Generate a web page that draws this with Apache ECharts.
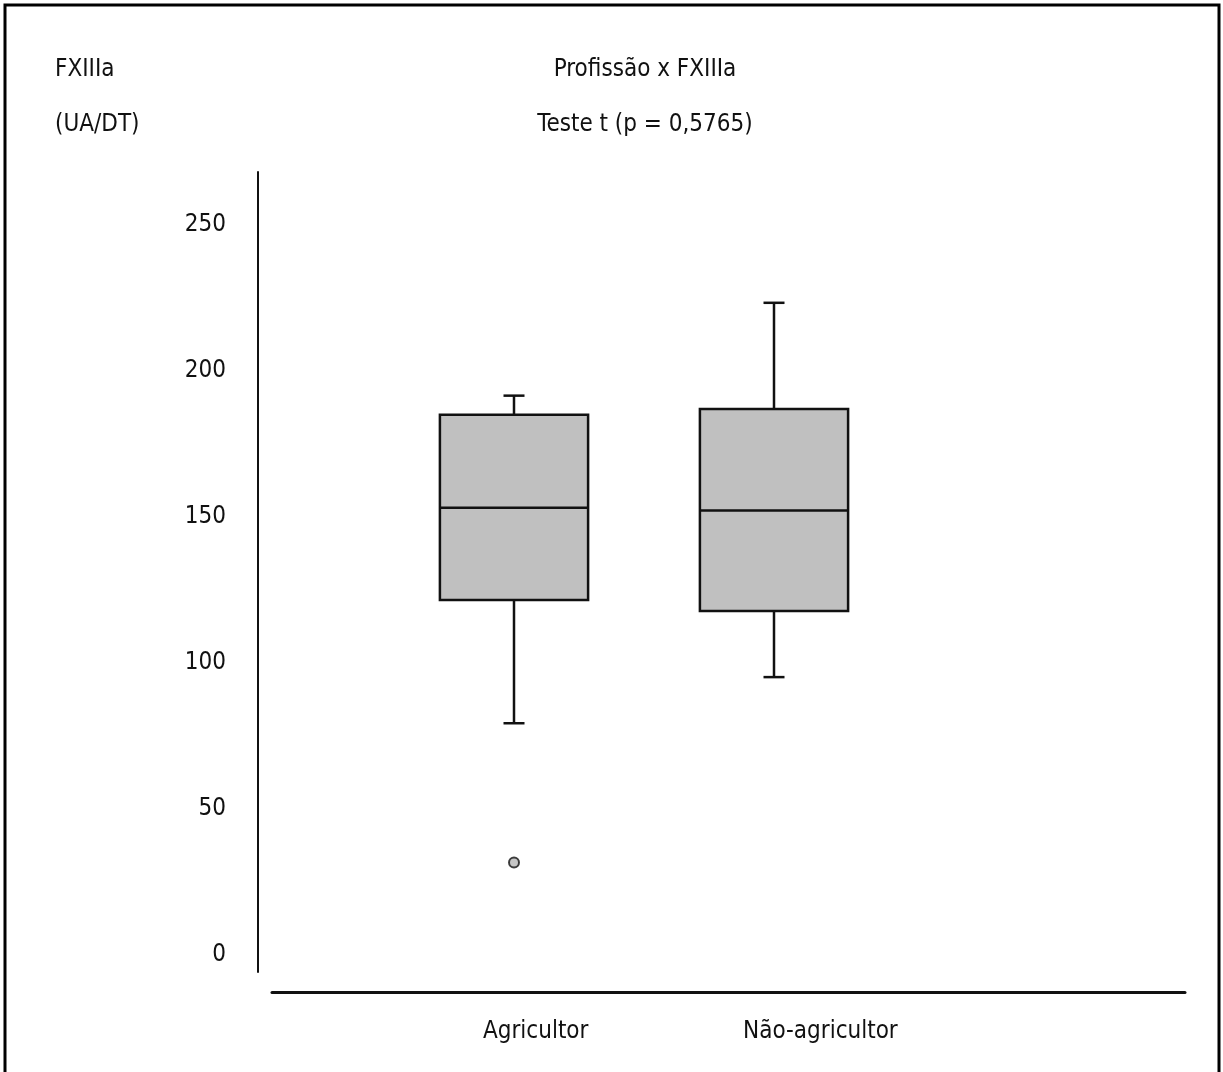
<!DOCTYPE html>
<html>
<head>
<meta charset="utf-8">
<script src="https://cdn.jsdelivr.net/npm/echarts@6/dist/echarts.min.js"></script>
<style>
html,body{margin:0;padding:0;background:#fff;}
#chart{width:1223px;height:1072px;}
</style>
</head>
<body>
<div id="chart"></div>
<script>
const categories = ['Agricultor', 'Não-agricultor'];
// [min whisker, Q1, median, Q3, max whisker]
const boxLow    = [79.2, 95.0];
const boxQ1     = [121.4, 117.6];
const boxMedian = [153.0, 152.1];
const boxQ3     = [184.9, 186.8];
const boxHigh   = [191.4, 223.2];
const outliers  = [[0, 31.5]];
const yTicks    = [0, 50, 100, 150, 200, 250];

const FONT = "'DejaVu Sans Condensed', 'Liberation Sans Narrow', sans-serif";
const INK = '#111';
const FS = 24;

const boxData = categories.map((c, i) => [i, boxLow[i], boxQ1[i], boxMedian[i], boxQ3[i], boxHigh[i]]);

const chart = echarts.init(document.getElementById('chart'), null, {renderer: 'canvas'});
chart.setOption({
  animation: false,
  backgroundColor: '#fff',
  textStyle: {fontFamily: FONT},
  title: [
    {
      text: 'Profissão x FXIIIa',
      subtext: 'Teste t (p = 0,5765)',
      left: 640, top: 50, textAlign: 'center',
      itemGap: 25,
      textStyle: {fontFamily: FONT, fontSize: FS, fontWeight: 'normal', color: INK, lineHeight: 30},
      subtextStyle: {fontFamily: FONT, fontSize: FS, color: INK, lineHeight: 30}
    },
    {
      text: 'FXIIIa',
      subtext: '(UA/DT)',
      left: 50, top: 50,
      itemGap: 25,
      textStyle: {fontFamily: FONT, fontSize: FS, fontWeight: 'normal', color: INK, lineHeight: 30},
      subtextStyle: {fontFamily: FONT, fontSize: FS, color: INK, lineHeight: 30}
    }
  ],
  grid: [
    {left: 384, right: 319, top: 172, bottom: 100},
    {left: 272, right: 38, top: 172, bottom: 100}
  ],
  xAxis: [
    {
      gridIndex: 0, type: 'category', data: categories,
      offset: 20,
      axisLine: {show: false, onZero: false}, axisTick: {show: false}, splitLine: {show: false},
      axisLabel: {
        fontFamily: FONT, fontSize: FS, color: INK, margin: 28,
        align: 'left', padding: [0, 0, 0, -31]
      }
    },
    {
      gridIndex: 1, type: 'category', data: categories,
      offset: 20,
      axisLine: {show: true, onZero: false, lineStyle: {color: INK, width: 3}},
      axisTick: {show: false}, axisLabel: {show: false}, splitLine: {show: false}
    }
  ],
  yAxis: [
    {
      gridIndex: 0, type: 'value', min: -6, max: 268,
      offset: 126,
      axisLine: {show: true, lineStyle: {color: INK, width: 2}},
      axisTick: {show: false}, splitLine: {show: false},
      axisLabel: {
        fontFamily: FONT, fontSize: FS, color: INK, margin: 32,
        customValues: yTicks
      }
    },
    {
      gridIndex: 1, type: 'value', min: -6, max: 268, show: false
    }
  ],
  graphic: [
    {
      type: 'polyline', silent: true,
      shape: {points: [[5, 1075], [5, 5], [1219, 5], [1219, 1075]]},
      style: {stroke: '#000', lineWidth: 3, fill: null}
    }
  ],
  series: [
    {
      type: 'custom',
      xAxisIndex: 0, yAxisIndex: 0,
      data: boxData,
      renderItem: function (params, api) {
        const idx = api.value(0);
        const pLow = api.coord([idx, api.value(1)]);
        const pQ1 = api.coord([idx, api.value(2)]);
        const pMed = api.coord([idx, api.value(3)]);
        const pQ3 = api.coord([idx, api.value(4)]);
        const pHigh = api.coord([idx, api.value(5)]);
        const band = api.size([1, 0])[0];
        const half = band * 0.57 / 2;
        const cap = 10.5;
        const cx = pMed[0];
        const ls = {stroke: INK, lineWidth: 2.5, fill: null};
        return {
          type: 'group',
          children: [
            {type: 'line', shape: {x1: cx, y1: pHigh[1], x2: cx, y2: pQ3[1]}, style: ls},
            {type: 'line', shape: {x1: cx, y1: pQ1[1], x2: cx, y2: pLow[1]}, style: ls},
            {type: 'line', shape: {x1: cx - cap, y1: pHigh[1], x2: cx + cap, y2: pHigh[1]}, style: ls},
            {type: 'line', shape: {x1: cx - cap, y1: pLow[1], x2: cx + cap, y2: pLow[1]}, style: ls},
            {type: 'rect', shape: {x: cx - half, y: pQ3[1], width: half * 2, height: pQ1[1] - pQ3[1]},
             style: {fill: '#c0c0c0', stroke: INK, lineWidth: 2.5}},
            {type: 'line', shape: {x1: cx - half, y1: pMed[1], x2: cx + half, y2: pMed[1]}, style: ls}
          ]
        };
      }
    },
    {
      type: 'scatter',
      xAxisIndex: 0, yAxisIndex: 0,
      data: outliers,
      symbol: 'circle', symbolSize: 10,
      itemStyle: {color: '#b8b8b8', borderColor: INK, borderWidth: 2}
    }
  ]
});
</script>
</body>
</html>
